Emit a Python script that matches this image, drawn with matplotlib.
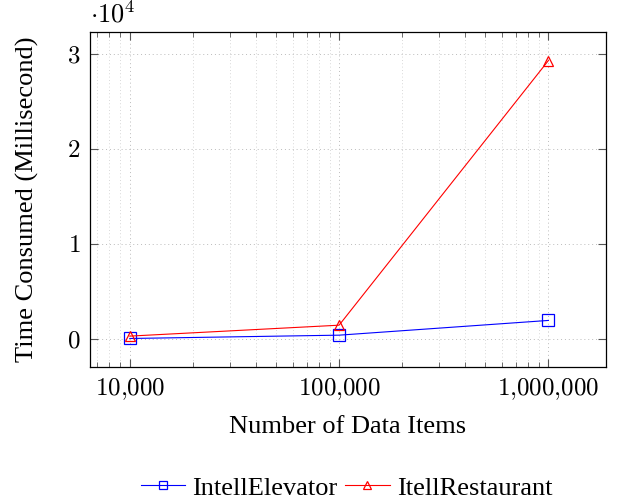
import matplotlib
matplotlib.use("Agg")
import matplotlib.pyplot as plt
from matplotlib import ticker

# data
items = [10_000, 100_000, 1_000_000]
elevator_ms = [50, 400, 1950]
restaurant_ms = [300, 1450, 29300]
series_names = ["IntellElevator", "ItellRestaurant"]

plt.rcParams["mathtext.fontset"] = "cm"
plt.rcParams["font.family"] = ["Liberation Serif", "DejaVu Serif"]

fig = plt.figure(figsize=(6.39, 5.03), dpi=100)
ax = fig.add_axes([90 / 639, 1 - 367 / 503, 516 / 639, 335 / 503])

ax.plot(items, elevator_ms, color="blue", lw=0.8, marker="s", ms=8,
        mfc="none", mew=0.9, label=series_names[0])
ax.plot(items, restaurant_ms, color="red", lw=0.8, marker="^", ms=7,
        mfc="none", mew=0.9, label=series_names[1])

ax.set_xscale("log")
ax.set_xlim(10 ** 3.81, 10 ** 6.275)
ax.set_ylim(-2950, 32300)

ax.set_xticks(items)
ax.xaxis.set_major_formatter(ticker.FuncFormatter(
    lambda v, _: "$" + f"{int(round(v)):,}".replace(",", "{,}") + "$"))
ax.xaxis.set_minor_formatter(ticker.NullFormatter())
ax.set_yticks([0, 10000, 20000, 30000])
ax.yaxis.set_major_formatter(ticker.FuncFormatter(
    lambda v, _: f"${int(round(v / 10000))}$"))

ax.tick_params(which="both", direction="in", top=True, right=True,
               labelsize=18, color="#555555")
ax.tick_params(which="major", length=6, width=0.8, pad=7)
ax.tick_params(which="minor", length=3.5, width=0.6)

ax.grid(True, which="major", ls=(0, (1, 3)), color="#bbbbbb", lw=0.7)
ax.grid(True, which="minor", axis="x", ls=(0, (1, 3)), color="#cccccc", lw=0.6)

for s in ax.spines.values():
    s.set_linewidth(0.9)

ax.text(0.0, 1.012, r"$\cdot 10^4$", transform=ax.transAxes, fontsize=19,
        ha="left", va="bottom")

ax.set_xlabel("Number of Data Items", fontsize=19, labelpad=10)
ax.set_ylabel("Time Consumed (Millisecond)", fontsize=19, labelpad=20)

ax.legend(loc="upper center", bbox_to_anchor=(0.497, -0.255), ncol=2,
          frameon=False, fontsize=19, handlelength=1.7, handletextpad=0.27,
          columnspacing=0.27, markerscale=0.75)

fig.savefig("out.png", dpi=100)
